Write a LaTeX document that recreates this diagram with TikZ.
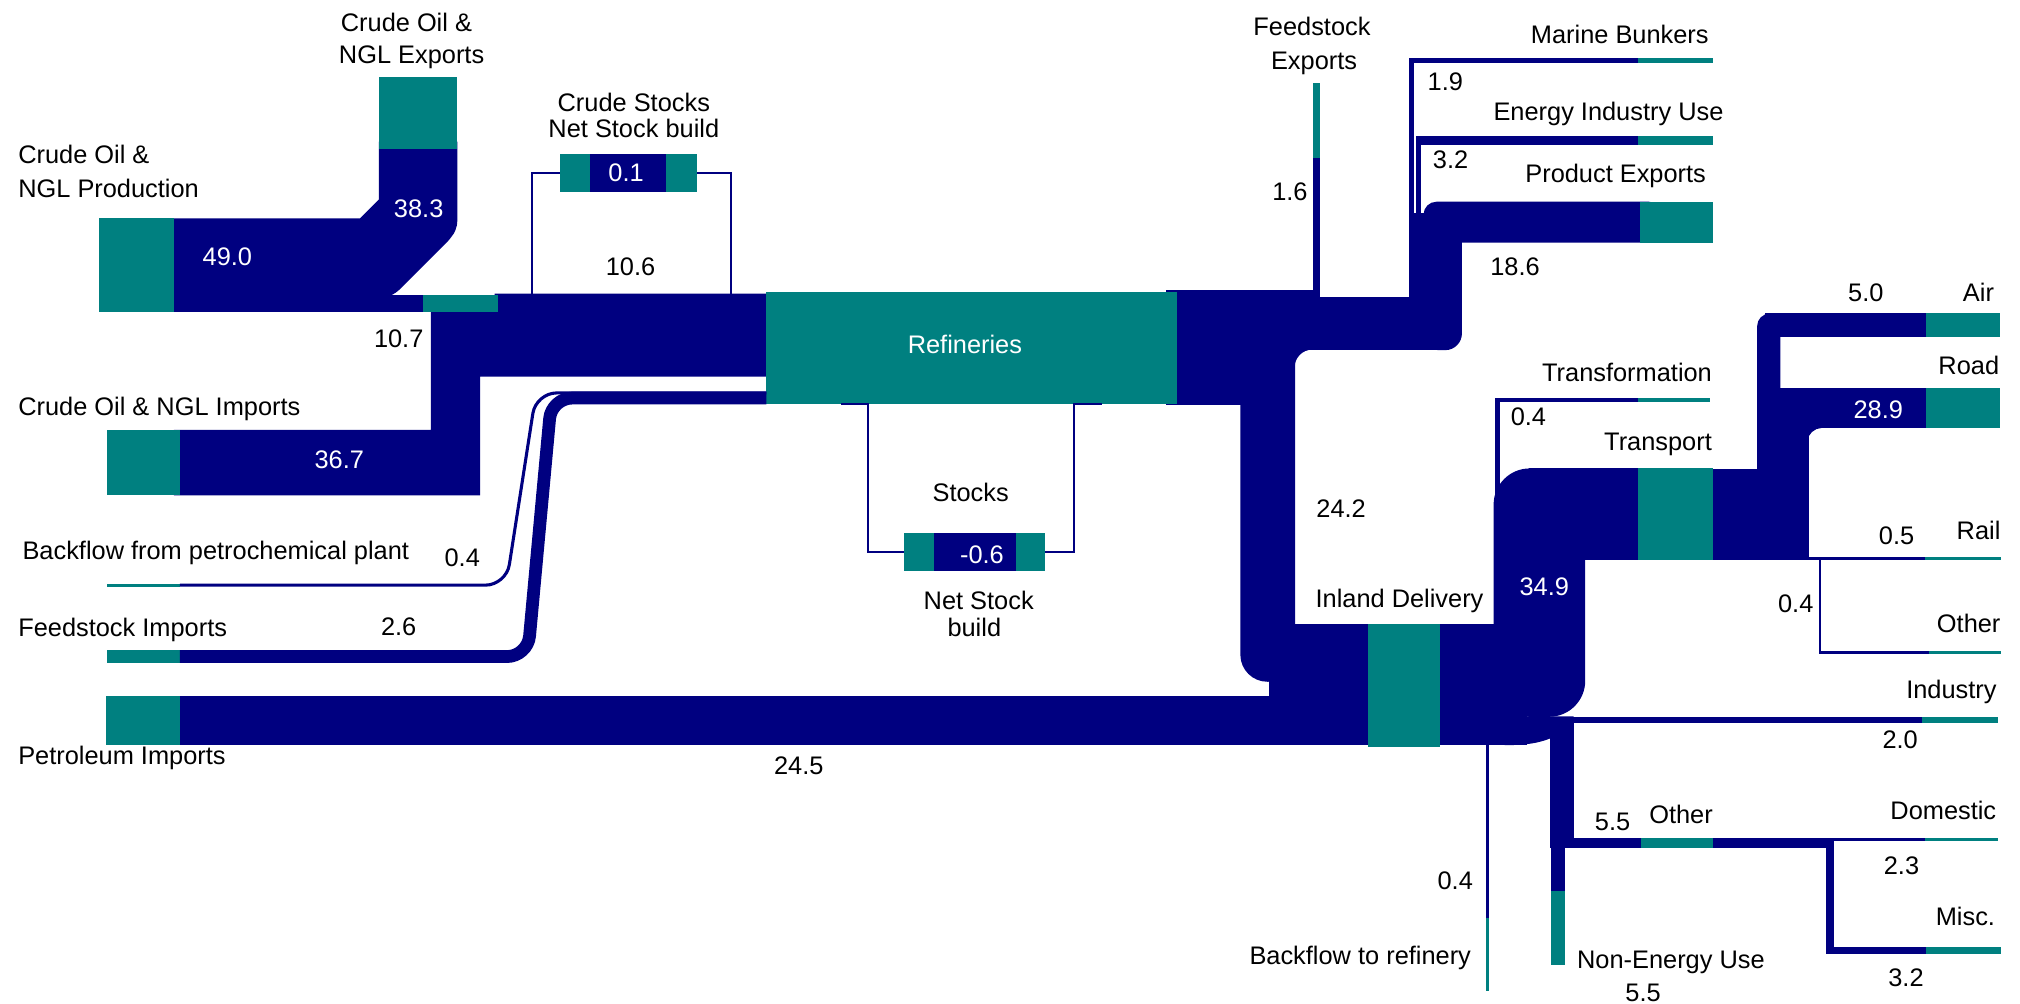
\documentclass[tikz,border=0pt]{standalone}
\usepackage{fontspec}
\setmainfont{Liberation Sans}
\usepackage{tikz}

\definecolor{navyblue}{RGB}{0,0,128}
\definecolor{tealgreen}{RGB}{0,128,128}
\newcommand{\lblfont}{\fontsize{19.7}{24}\selectfont}
\newcommand{\tealbox}[5]{\node [tbox, minimum width={#4-#2}, minimum height={#5-#3}] (#1) at ({(#2+#4)/2},{(#3+#5)/2}) {};}

\begin{document}
\begin{tikzpicture}[x=1pt,y=-1pt]
\tikzstyle{every node}+=[inner sep=0pt, font=\lblfont]
\tikzstyle{tbox}=[rectangle, fill=tealgreen, draw=none, outer sep=0pt]
\tikzstyle{wnum}=[text=white]
\tikzstyle{thinflow}=[draw=navyblue, line width=1.6]
\useasboundingbox (0,0) rectangle (1568,778.6);
\fill [navyblue] (130,169.5) -- (279.5,169.5) -- (294,155) -- (294,110) -- (355,110) -- (355,170) .. controls (355,178) and (353,181) .. (347,188) -- (312,223) .. controls (302,233) and (297,229) .. (307,229) -- (332,229) -- (332,242) -- (130,242) -- cycle;
\fill [navyblue] (135,333.6) -- (334.4,333.6) -- (334.4,240) -- (384,240) -- (384,228) -- (600,228) -- (600,292.4) -- (372.7,292.4) -- (372.7,384.5) -- (135,384.5) -- cycle;
\fill [navyblue] (905,225.2) rectangle (975,314.5);
\fill [navyblue] (905,225.2) rectangle (1024.8,271.8);
\fill [navyblue] (1020,230.4) rectangle (1120,271.8);
\fill [navyblue] (1093.4,165.7) rectangle (1105,233);
\fill [navyblue] (1104,166.6) rectangle (1134.8,240);
\fill [navyblue, rounded corners=13] (1104,200) rectangle (1134.8,271.8);
\fill [navyblue, rounded corners=10] (1105,156.6) rectangle (1290,188.4);
\fill [navyblue] (1018.9,120) rectangle (1024.8,228);
\fill [navyblue] (1093.7,44.8) rectangle (1097.8,233);
\fill [navyblue] (1093.7,44.8) rectangle (1276,48.7);
\fill [navyblue] (1099,105.6) rectangle (1103.2,168);
\fill [navyblue] (1099,105.6) rectangle (1276,112.6);
\fill [navyblue, rounded corners=21] (962.8,250) rectangle (1005.4,529.2);
\fill [navyblue] (1005,271.4) -- (1018.4,271.4) .. controls (1011.2,271.4) and (1005,277.6) .. (1005,284.8) -- cycle;
\fill [navyblue] (984.8,484) rectangle (1070,578.4);
\fill [navyblue] (135,540.4) rectangle (1070,578.4);
\fill [navyblue] (1110,484) rectangle (1185,578.4);
\fill [navyblue, rounded corners=28] (1159.4,363.6) rectangle (1230.5,556.4);
\fill [navyblue] (1187,363.6) rectangle (1276,434.8);
\fill [navyblue] (1170,556) -- (1221.5,556) -- (1221.5,561.6) .. controls (1205,576) and (1190,578.4) .. (1168,578.4) -- cycle;
\fill [navyblue] (1160.6,309.3) rectangle (1164,394);
\fill [navyblue] (1160.6,309.3) rectangle (1276,312.4);
\fill [navyblue] (1325,363.7) rectangle (1404,434.8);
\fill [navyblue, rounded corners=10] (1363.9,243.3) rectangle (1382,380);
\fill [navyblue] (1370,243.3) rectangle (1500,261.4);
\fill [navyblue] (1380,301.5) rectangle (1500,332.6);
\fill [navyblue] (1363.9,330) rectangle (1404,366);
\fill [navyblue] (1403,332.2) -- (1414,332.2) .. controls (1408.5,332.2) and (1403,337.1) .. (1403,342.6) -- cycle;
\fill [navyblue] (1402,432.2) rectangle (1498,434.8);
\fill [navyblue] (1411.8,434) rectangle (1413.6,508);
\fill [navyblue] (1411.8,505.6) rectangle (1501,508);
\fill [navyblue] (1204,556.4) rectangle (1496,561.6);
\fill [navyblue] (1203.4,560) rectangle (1221.5,658.6);
\fill [navyblue] (1203.9,657) rectangle (1214.8,696);
\fill [navyblue] (1214,650.8) rectangle (1278,658.6);
\fill [navyblue] (1326,650.8) rectangle (1423.5,658.6);
\fill [navyblue] (1419,650.8) rectangle (1498,653);
\fill [navyblue] (1417.6,650.8) rectangle (1423.5,740.3);
\fill [navyblue] (1417.6,735.3) rectangle (1499,740.3);
\fill [navyblue] (1153.8,576) rectangle (1155.6,716);
\tealbox{expo}{294}{59.5}{355}{116}
\tealbox{prod}{77}{169.5}{135}{242}
\tealbox{strip}{328.2}{229}{386.4}{242}
\tealbox{cstk}{434.5}{119.6}{541.3}{148.8}
\tealbox{imp}{83.2}{333.6}{139.7}{384.5}
\tealbox{back}{83.2}{453}{139.7}{455.4}
\tealbox{fimp}{83.2}{504.7}{139.7}{514.6}
\tealbox{pimp}{82}{540.4}{139.7}{578.4}
\tealbox{ref}{594.8}{226.4}{913.5}{313.5}
\tealbox{stk}{701.5}{413.8}{811.4}{443}
\tealbox{fexp}{1018.9}{64.7}{1024.8}{123}
\tealbox{mar}{1271.6}{44.8}{1329.8}{48.7}
\tealbox{eiu}{1271.6}{105.6}{1329.8}{112.6}
\tealbox{pexp}{1272.9}{156.6}{1329.8}{188.4}
\tealbox{air}{1495.3}{243.3}{1552.3}{261.4}
\tealbox{road}{1495.3}{301.5}{1552.3}{332.6}
\tealbox{trf}{1271.6}{309.3}{1327.7}{312.4}
\tealbox{trp}{1271.8}{363.6}{1330}{435}
\tealbox{rail}{1494}{432.2}{1553}{434.8}
\tealbox{otht}{1497.3}{505.6}{1553}{508}
\tealbox{inl}{1061.6}{484}{1118}{580.2}
\tealbox{ind}{1491.8}{556.4}{1551}{561.6}
\tealbox{bref}{1153.8}{712.8}{1155.6}{769}
\tealbox{nen}{1203.9}{692}{1214.8}{749}
\tealbox{oth}{1274}{650.8}{1330}{658.6}
\tealbox{dom}{1494}{650.8}{1551}{653}
\tealbox{misc}{1495.4}{735.3}{1553}{740.3}
\draw [navyblue, line width=9.9, rounded corners=16] (fimp.east) -- (409.6,509.65) -- (428.1,309) -- (ref.west |- 0,309);
\draw [navyblue, line width=2.4, rounded corners=16] (back.east) -- (392.9,454.2) -- (416.1,305) -- (ref.west |- 0,305);
\draw [thinflow] (412.8,228) |- (cstk.west);
\draw [thinflow] (cstk.east) -| (567.7,228);
\draw [thinflow] (653,313.5) -| (673.8,428.4) -- (stk.west);
\draw [thinflow] (stk.east) -| (834,313.5) -- (855.7,313.5);
\fill [navyblue] (458,119.6) rectangle (517,148.8);
\fill [navyblue] (725.1,413.8) rectangle (789,443);
\node (tExpoA) [anchor=base] at (315.5,24.6) {Crude Oil \&};
\node (tExpoB) [anchor=base] at (319.5,49) {NGL Exports};
\node (tProdA) [anchor=base west] at (14,127) {Crude Oil \&};
\node (tProdB) [anchor=base west] at (14,153) {NGL Production};
\node (n383) [wnum] at (325,162) {38.3};
\node (n490) [wnum] at (176.5,199) {49.0};
\node (n107) at (309.5,263) {10.7};
\node (tCstkA) [anchor=base] at (492,86.7) {Crude Stocks};
\node (tCstkB) [anchor=base] at (492,107) {Net Stock build};
\node (n01) [wnum] at (486,134) {0.1};
\node (n106) at (489.4,207) {10.6};
\node (tImp) [anchor=base west] at (14,322.8) {Crude Oil \& NGL Imports};
\node (n367) [wnum] at (263.4,356.7) {36.7};
\node (tBack) [anchor=base west] at (17.3,434.4) {Backflow from petrochemical plant};
\node (n04a) at (358.8,433.2) {0.4};
\node (tFimp) [anchor=base west] at (14,494) {Feedstock Imports};
\node (n26) at (309.5,486.9) {2.6};
\node (tPimp) [anchor=base west] at (14,593.6) {Petroleum Imports};
\node (n245) at (620,594.2) {24.5};
\node (tRef) [wnum] at (749,267) {Refineries};
\node (tStk) [anchor=base] at (753.5,389) {Stocks};
\node (nm06) [wnum] at (762.2,430.7) {-0.6};
\node (tNsbA) [anchor=base] at (759.7,473.3) {Net Stock};
\node (tNsbB) [anchor=base] at (756.3,494) {build};
\node (tFexpA) [anchor=base] at (1018.4,27.2) {Feedstock};
\node (tFexpB) [anchor=base] at (1020,54.3) {Exports};
\node (n16) at (1001.3,148.5) {1.6};
\node (tMar) [anchor=base east] at (1326.5,33.6) {Marine Bunkers};
\node (n19) at (1121.9,63.4) {1.9};
\node (tEiu) [anchor=base east] at (1338,93.2) {Energy Industry Use};
\node (n32a) at (1126,124.2) {3.2};
\node (tPexp) [anchor=base east] at (1324.4,141.8) {Product Exports};
\node (n186) at (1176,207) {18.6};
\node (n242) at (1041,394.7) {24.2};
\node (n50) at (1448.3,227) {5.0};
\node (tAir) [anchor=base east] at (1548,234) {Air};
\node (tRoad) [anchor=base east] at (1552,291) {Road};
\node (n289) [wnum] at (1458,318.3) {28.9};
\node (tTrf) [anchor=base east] at (1329,296.3) {Transformation};
\node (n04b) at (1186.4,323.5) {0.4};
\node (tTrp) [anchor=base east] at (1329,349.4) {Transport};
\node (tInl) [anchor=base west] at (1021,471.5) {Inland Delivery};
\node (n349) [wnum] at (1198.7,455.5) {34.9};
\node (n05) at (1472.2,415.6) {0.5};
\node (tRail) [anchor=base east] at (1553,418.5) {Rail};
\node (n04c) at (1393.9,469) {0.4};
\node (tOthT) [anchor=base east] at (1553,491.2) {Other};
\node (tInd) [anchor=base east] at (1550,542) {Industry};
\node (n20) at (1475,574.3) {2.0};
\node (n04d) at (1129.6,684) {0.4};
\node (tBref) [anchor=base east] at (1142,749) {Backflow to refinery};
\node (tNen) [anchor=base west] at (1224,752) {Non-Energy Use};
\node (n55a) at (1275.4,770.5) {5.5};
\node (n55b) at (1251.7,637.8) {5.5};
\node (tOth) [anchor=base west] at (1280,639) {Other};
\node (tDom) [anchor=base east] at (1549.7,636.4) {Domestic};
\node (n23) at (1476,672.4) {2.3};
\node (tMisc) [anchor=base east] at (1548.8,718.6) {Misc.};
\node (n32b) at (1479.5,759) {3.2};
\end{tikzpicture}
\end{document}
